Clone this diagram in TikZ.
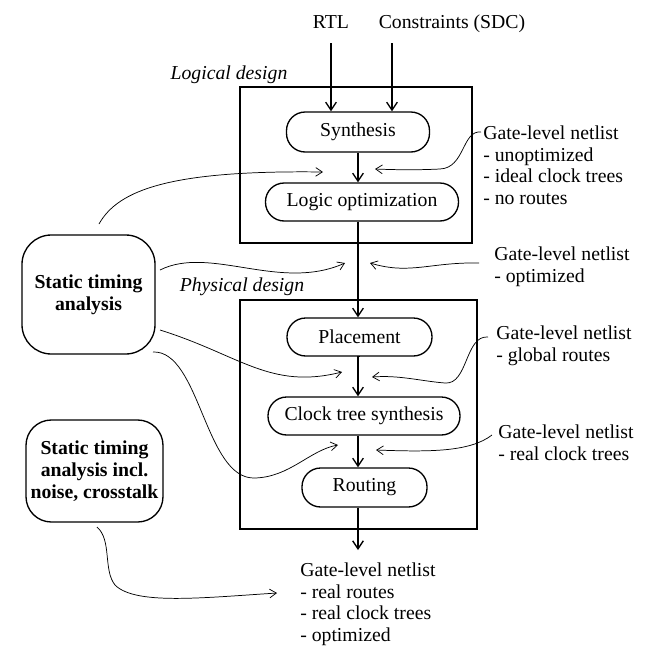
\documentclass[tikz,border=0pt]{standalone}
\usepackage{fontspec}
\setmainfont{Liberation Serif}
\usetikzlibrary{arrows.meta}
\begin{document}
\begin{tikzpicture}[x=0.75pt,y=-0.75pt,
  every node/.style={font=\fontsize{14.8}{16.1}\selectfont},
  stadium/.style={draw, line width=1pt, rounded corners=14pt, inner sep=0pt, align=center},
  stabox/.style={draw, line width=1pt, align=center, inner sep=0pt, font=\fontsize{14.8}{16.5}\selectfont\bfseries},
  region/.style={draw, line width=1.1pt, inner sep=0pt},
  flow/.style={line width=1pt, -{Straight Barb[length=6pt,width=8pt,line width=1pt]}},
  hint/.style={line width=0.55pt, -{Straight Barb[length=5pt,width=6.5pt]}},
  note/.style={anchor=north west, inner sep=0pt, align=left},
  caption/.style={anchor=base, inner sep=0pt, font=\fontsize{14.8}{16.1}\selectfont\itshape}
]
\useasboundingbox (0,0) rectangle (655,661);
% regions
\node[region, minimum width=174pt, minimum height=117pt] (logbox) at (356,165) {};
\node[region, minimum width=177.75pt, minimum height=171.75pt] (physbox) at (358.5,414.5) {};
\node[caption] (logcap) at (229,79) {Logical design};
\node[caption] (physcap) at (242,291) {Physical design};
% inputs
\node[anchor=base] (rtl) at (331,28) {RTL};
\node[anchor=base] (sdc) at (452,28) {Constraints (SDC)};
% flow steps
\node[stadium, minimum width=107.25pt, minimum height=30pt] (synth) at (358,132) {Synthesis};
\node[stadium, minimum width=144.75pt, minimum height=28.5pt] (logic) at (362,202) {Logic optimization};
\node[stadium, minimum width=108.75pt, minimum height=28.5pt] (place) at (359.5,337) {Placement};
\node[stadium, minimum width=144pt, minimum height=28.5pt] (cts) at (364,416) {Clock tree synthesis};
\node[stadium, minimum width=93.75pt, minimum height=29.25pt] (route) at (364.5,487.5) {Routing};
% STA boxes
\node[stabox, rounded corners=22pt, minimum width=99.75pt, minimum height=89.25pt] (sta1) at (88.5,294.5) {Static timing\\analysis};
\node[stabox, rounded corners=19pt, minimum width=102.75pt, minimum height=76.5pt] (sta2) at (94.5,471) {Static timing\\analysis incl.\\noise, crosstalk};
% netlist notes
\node[note] (n1) at (483,126) {Gate-level netlist\\- unoptimized\\- ideal clock trees\\- no routes};
\node[note] (n2) at (494,247) {Gate-level netlist\\- optimized};
\node[note] (n3) at (496,326) {Gate-level netlist\\- global routes};
\node[note] (n4) at (498,425) {Gate-level netlist\\- real clock trees};
\node[note] (n5) at (300,563) {Gate-level netlist\\- real routes\\- real clock trees\\- optimized};
% coordinates
\coordinate (sdcx) at (392,43);
\coordinate (rtlx) at (331,43);
\coordinate (outtip) at (358,550);
\coordinate (s1) at (99,224);
\coordinate (s3) at (160,270);
\coordinate (s5) at (160,330);
\coordinate (s7) at (153,352);
\coordinate (s9) at (97,527);
\coordinate (t1) at (323,172);
\coordinate (t2) at (375,169);
\coordinate (t3) at (345,263);
\coordinate (t4) at (370,263);
\coordinate (t5) at (342,372);
\coordinate (t6) at (372,377);
\coordinate (t7) at (338,445);
\coordinate (t8) at (376,450);
\coordinate (t9) at (277,593);
% main flow
\draw[flow] (rtlx) -- (rtlx |- synth.north);
\draw[flow] (sdcx) -- (sdcx |- synth.north);
\draw[flow] (synth.south) -- (synth.south |- logic.north);
\draw[flow] (synth.south |- logic.south) -- (synth.south |- place.north);
\draw[flow] (place.south) -- (place.south -| synth.south) -- (synth.south |- cts.north);
\draw[flow] (synth.south |- cts.south) -- (synth.south |- route.north);
\draw[flow] (synth.south |- route.south) -- (outtip);
% hint curves
\draw[hint] (s1) .. controls (118,190) and (170,170) .. (t1);
\draw[hint] ([shift={(-2,6)}]n1.north west) .. controls (462,130) and (465,168) .. (440,169) .. controls (420,170) and (400,170) .. (t2);
\draw[hint] (s3) .. controls (210,245) and (280,292) .. (t3);
\draw[hint] ([shift={(-15,16)}]n2.north west) .. controls (430,262) and (410,275) .. (t4);
\draw[hint] (s5) .. controls (240,355) and (270,390) .. (t5);
\draw[hint] ([shift={(-8,11)}]n3.north west) .. controls (465,335) and (468,385) .. (445,383) .. controls (420,381) and (400,375) .. (t6);
\draw[hint] (s7) .. controls (200,350) and (205,480) .. (255,478) .. controls (290,477) and (310,450) .. (t7);
\draw[hint] ([shift={(-6,10)}]n4.north west) .. controls (470,452) and (430,452) .. (t8);
\draw[hint] (s9) .. controls (112,540) and (103,570) .. (115,585) .. controls (135,605) and (200,598) .. (t9);
\end{tikzpicture}
\end{document}
